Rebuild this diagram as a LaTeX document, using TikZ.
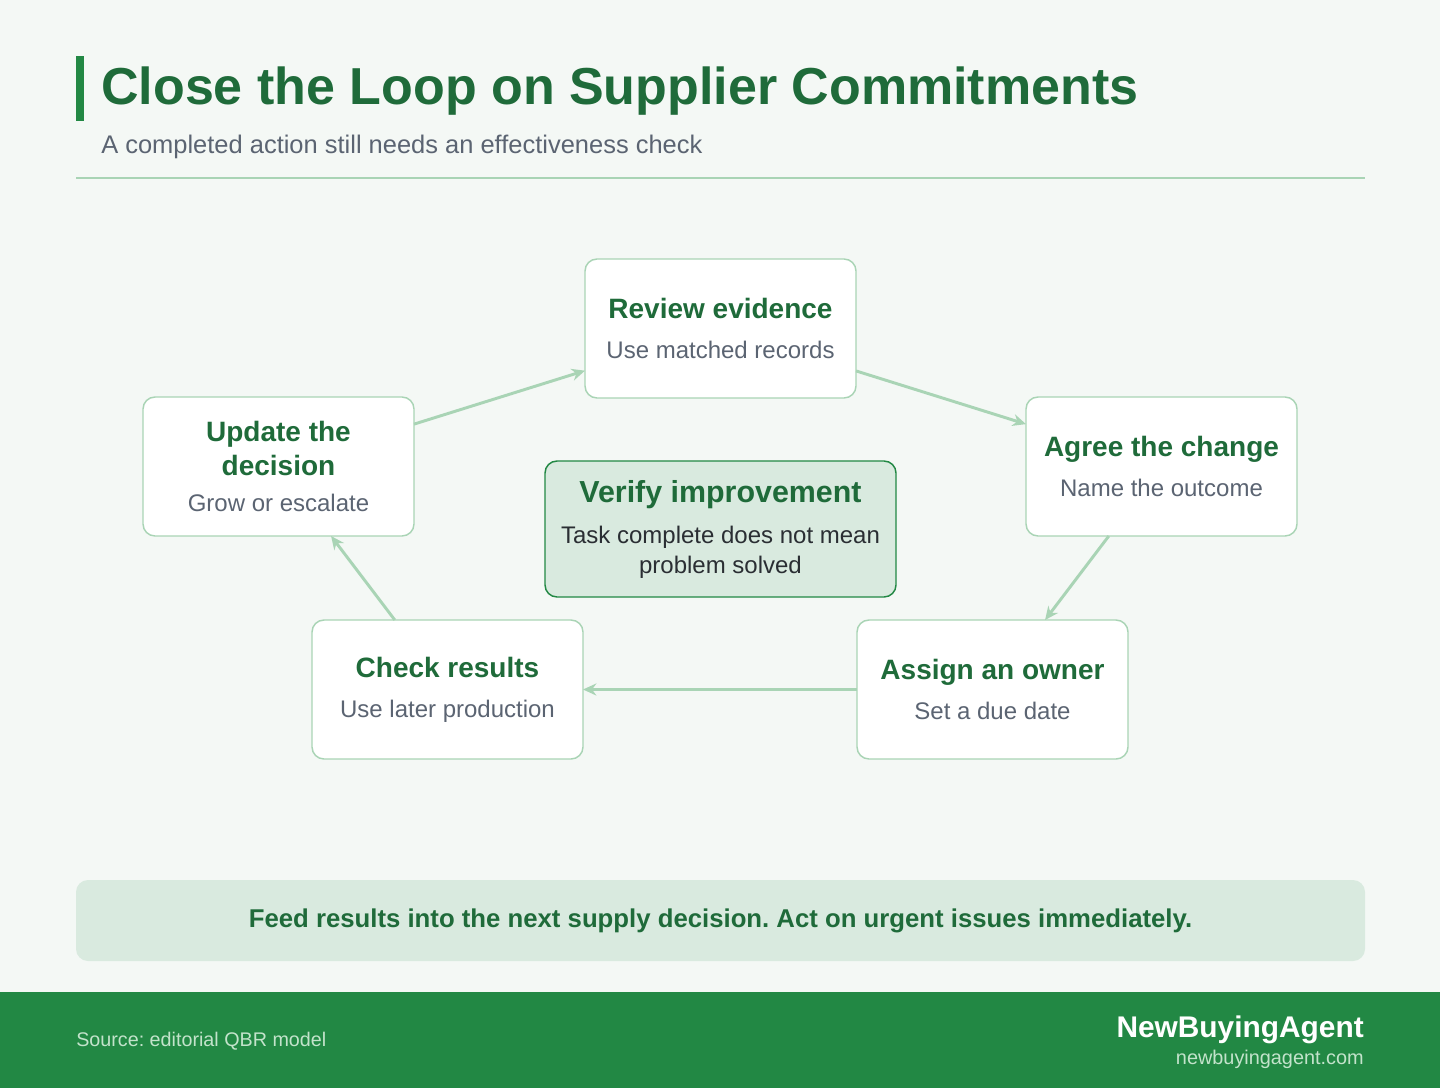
\documentclass[tikz,border=0pt]{standalone}
\usepackage{fontspec}
\setmainfont{Liberation Sans}
\usetikzlibrary{arrows.meta,positioning}
\definecolor{pagebg}{HTML}{F4F8F5}
\definecolor{leafdark}{HTML}{1F6B3A}
\definecolor{accent}{HTML}{228844}
\definecolor{edge}{HTML}{A9D4B5}
\definecolor{slate}{HTML}{5B6472}
\definecolor{mint}{HTML}{D9EADF}
\definecolor{ink}{HTML}{2A2E33}
\definecolor{footnote}{HTML}{C3E3CB}

\newcommand{\stepname}{\color{leafdark}\bfseries\fontsize{21}{26}\selectfont}
\newcommand{\stepnote}{\color{slate}\mdseries\fontsize{18}{22}\selectfont}
\newcommand{\verifynote}{\color{ink}\mdseries\fontsize{18}{22.5}\selectfont}
\frenchspacing

\begin{document}
\begin{tikzpicture}[x=0.75pt, y=-0.75pt,
    stepbox/.style={draw=edge, line width=1.1pt, fill=white, rounded corners=9pt,
                    minimum width=203.25pt, minimum height=104.25pt, align=center,
                    outer sep=0pt, inner sep=0pt, font=\stepname},
    flow/.style={draw=edge, line width=2.2pt, -{Stealth[length=10pt, width=9pt]}}
]
    % page
    \fill[pagebg] (0,0) rectangle (1440,1088);
    \useasboundingbox (0,0) rectangle (1440,1088);

    % heading
    \fill[accent] (76,56) rectangle (84,121);
    \node[anchor=base west, inner sep=0pt, text=leafdark, font=\bfseries\fontsize{39}{44}\selectfont]
        (title) at (101,105) {Close the Loop on Supplier Commitments};
    \node[anchor=base west, inner sep=0pt, text=slate, font=\fontsize{19.1}{23}\selectfont]
        (subtitle) at (101,153) {A completed action still needs an effectiveness check};
    \draw[edge, line width=1.5pt] (76,178) -- (1365,178);

    % cycle steps
    \node[stepbox] (review) at (720.5,328.5) {Review evidence\\[4pt]\stepnote Use matched records};
    \node[stepbox] (agree)  at (1161.5,466.5) {Agree the change\\[4pt]\stepnote Name the outcome};
    \node[stepbox] (assign) at (992.5,689.5) {Assign an owner\\[4pt]\stepnote Set a due date};
    \node[stepbox] (check)  at (447.5,689.5) {Check results\\[4pt]\stepnote Use later production};
    \node[stepbox] (update) at (278.5,466.5) {Update the\\decision\\[1pt]\stepnote Grow or escalate};

    % centre
    \node[draw=accent, line width=1.1pt, fill=mint, rounded corners=9pt, outer sep=0pt,
          minimum width=263.25pt, minimum height=102pt, align=center, inner sep=0pt,
          text=leafdark, font=\bfseries\fontsize{22.8}{28}\selectfont]
        (verify) at (720.5,529)
        {Verify improvement\\[2.75pt]\verifynote Task complete does not mean\\[-5.5pt]\verifynote problem solved};

    % arrows
    \draw[flow] (update) -- (review);
    \draw[flow] (review) -- (agree);
    \draw[flow] (agree) -- (assign);
    \draw[flow] (assign) -- (check);
    \draw[flow] (check) -- (update);

    % banner
    \node[fill=mint, rounded corners=9pt, minimum width=966.75pt, minimum height=60.75pt,
          text=leafdark, font=\bfseries\fontsize{19.3}{23}\selectfont]
        (note) at (720.5,920.5) {Feed results into the next supply decision. Act on urgent issues immediately.};

    % footer
    \fill[accent] (0,992) rectangle (1440,1088);
    \node[anchor=base west, inner sep=0pt, text=footnote, font=\fontsize{14.8}{17}\selectfont]
        (source) at (76,1046) {Source: editorial QBR model};
    \node[anchor=base east, inner sep=0pt, text=white, font=\bfseries\fontsize{22.4}{26}\selectfont]
        (brand) at (1364,1037) {NewBuyingAgent};
    \node[anchor=base east, inner sep=0pt, text=footnote, font=\fontsize{14.9}{17}\selectfont]
        (site) at (1364,1064) {newbuyingagent.com};
\end{tikzpicture}
\end{document}
